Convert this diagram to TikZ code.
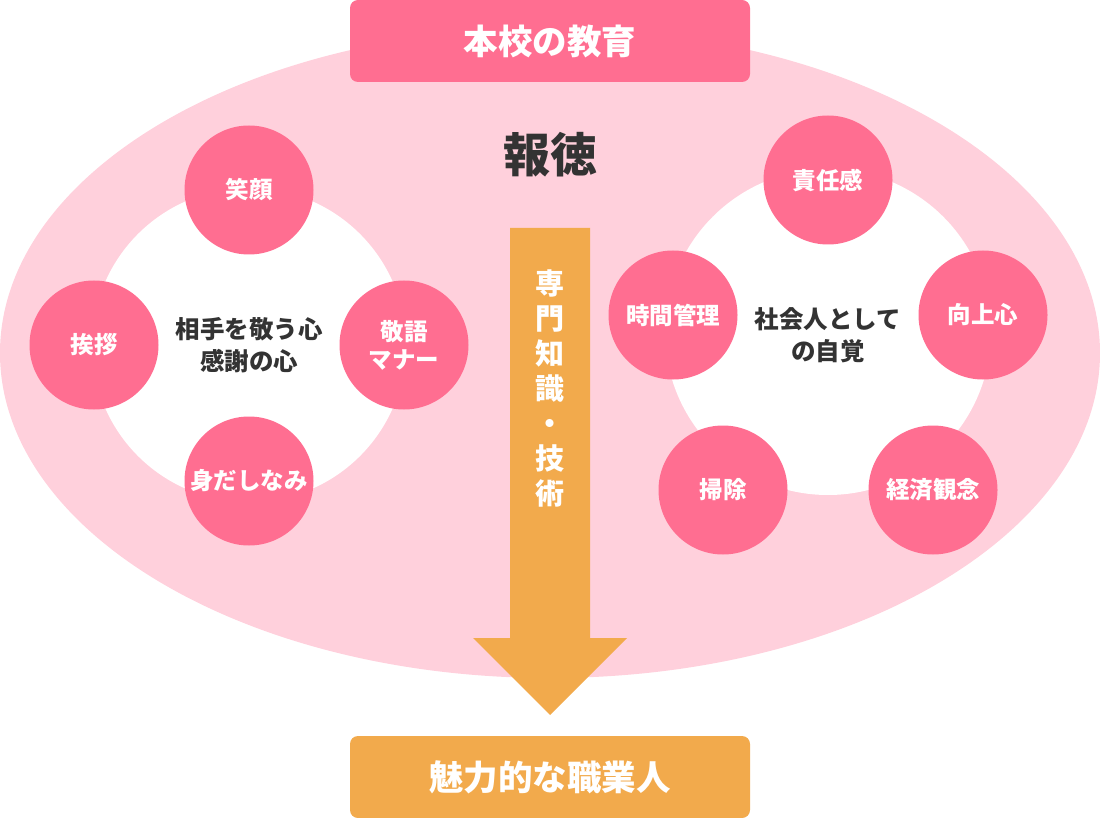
\documentclass[tikz,border=0pt]{standalone}
\usepackage{fontspec}
\setmainfont{Noto Sans CJK JP}
\definecolor{pinkD}{HTML}{FF6E91}
\definecolor{pinkL}{HTML}{FFD0DC}
\definecolor{orangeA}{HTML}{F2AA4C}
\definecolor{darkT}{HTML}{333333}
\tikzset{
  pc/.style={circle, fill=pinkD, minimum size=129pt, inner sep=0pt, text=white, font=\bfseries\fontsize{23.5pt}{28pt}\selectfont, align=center},
  wc/.style={circle, fill=white, inner sep=0pt},
  ctext/.style={text=darkT, font=\bfseries\fontsize{24.5pt}{32pt}\selectfont, align=center},
  headbox/.style={rounded corners=8pt, minimum width=400pt, minimum height=82pt, inner sep=0pt, text=white, font=\bfseries\fontsize{34.5pt}{40pt}\selectfont},
}
\begin{document}
\begin{tikzpicture}[x=1pt,y=-1pt]
\useasboundingbox (0,0) rectangle (1100,818);
% big ellipse
\fill[pinkL] (550,353) ellipse [x radius=550, y radius=325];
% top box
\node[headbox, fill=pinkD] (top) at (550,41) {本校の教育};
% title
\node[text=darkT, font=\bfseries\fontsize{47pt}{50pt}\selectfont] (hotoku) at (550,155) {報徳};
% white circles
\node[wc, minimum size=314pt] (lw) at (249,345) {};
\node[wc, minimum size=326pt] (rw) at (828,332) {};
% left group
\node[ctext] (lc) at (249,345) {相手を敬う心\\感謝の心};
\node[pc] (egao) at (249,190) {笑顔};
\node[pc] (aisatsu) at (94,345) {挨拶};
\node[pc] (keigo) at (404,345) {敬語\\マナー};
\node[pc] (mi) at (249,481) {身だしなみ};
% right group
\node[ctext] (rc) at (828,335) {社会人として\\の自覚};
\node[pc] (sekinin) at (828,180) {責任感};
\node[pc] (jikan) at (673,315) {時間管理};
\node[pc] (kojo) at (983,315) {向上心};
\node[pc] (soji) at (723,490) {掃除};
\node[pc] (keizai) at (933,490) {経済観念};
% arrow
\fill[orangeA] (510,228) -- (590,228) -- (590,638) -- (627,638) -- (550,715) -- (473,638) -- (510,638) -- cycle;
\node[text=white, font=\bfseries\fontsize{29pt}{35pt}\selectfont, align=center, inner sep=0pt] (senmon) at (550,388) {専\\門\\知\\識\\・\\技\\術};
% bottom box
\node[headbox, fill=orangeA] (bottom) at (550,777) {魅力的な職業人};
\end{tikzpicture}
\end{document}
